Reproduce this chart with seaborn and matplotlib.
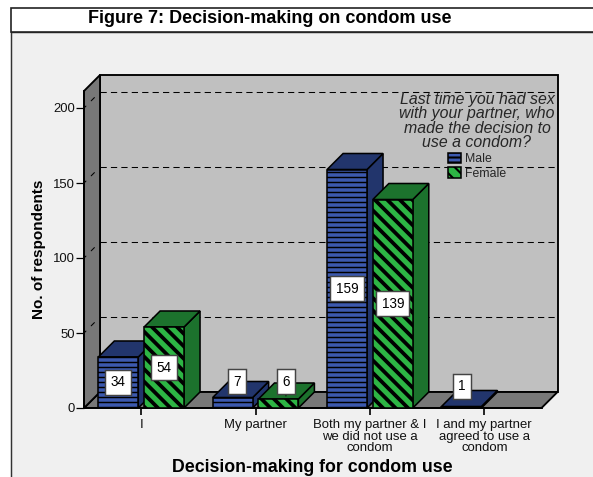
"""Figure 7: decision-making on condom use, SPSS style 3D clustered bars."""
import matplotlib
import matplotlib.pyplot as plt
import pandas as pd
import seaborn as sns
from matplotlib.patches import Patch, Polygon, Rectangle

matplotlib.use("Agg")

categories = ["I", "My partner", "Both my partner & I\nwe did not use a\ncondom",
              "I and my partner\nagreed to use a\ncondom"]
male_values = [34, 7, 159, 1]
female_categories = categories[:3]
female_values = [54, 6, 139]
y_ticks = [0, 50, 100, 150, 200]
grid_values = [50, 100, 150, 200]
legend_title = "Last time you had sex\nwith your partner, who\nmade the decision to\nuse a condom?"

W, H, DPI = 593, 477, 150
LEFT, RIGHT, FLOOR, TOP = 84, 541.5, 408, 91
PX_X = 4 / (RIGHT - LEFT)  # data units per pixel
PX_Y = 1 / 1.5
DEPTH = 16

FRONT = {"Male": "#3c59ae", "Female": "#2db544"}
SIDE = {"Male": "#22356c", "Female": "#1c722d"}
HATCH = {"Male": "-----", "Female": "\\\\\\\\"}
HATCH_LW = {"Male": 0.7, "Female": 1.8}

sns.set_theme(style="ticks")
plt.rcParams["font.family"] = ["Liberation Sans", "DejaVu Sans"]
plt.rcParams["hatch.linewidth"] = 1.0

df = pd.DataFrame({
    "category": categories + female_categories,
    "sex": ["Male"] * len(male_values) + ["Female"] * len(female_values),
    "count": male_values + female_values,
})

fig = plt.figure(figsize=(W / DPI, H / DPI), dpi=DPI, facecolor="white")
ax = fig.add_axes([LEFT / W, 1 - FLOOR / H, (RIGHT - LEFT) / W, (FLOOR - TOP) / H])
ax.set_facecolor("none")


def fig_rect(x0, y0, x1, y1, **kw):
    fig.add_artist(Rectangle((x0 / W, 1 - y1 / H), (x1 - x0) / W, (y1 - y0) / H,
                             transform=fig.transFigure, zorder=-1, **kw))


# outer frame: title band and grey panel
fig_rect(11, 32, W + 5, H + 5, facecolor="#f0f0f0", edgecolor="#333333", lw=0.7)
fig_rect(11, 8, W + 5, 32, facecolor="white", edgecolor="#222222", lw=0.8)

sns.barplot(data=df, x="category", y="count", hue="sex", order=categories,
            hue_order=["Male", "Female"], palette=FRONT, saturation=1, width=0.8,
            gap=0.127, edgecolor="black", linewidth=0.75, legend=False, ax=ax, zorder=5)

ax.set_xlim(-0.5, 3.5)
ax.set_ylim(0, (FLOOR - TOP) * PX_Y)
dx, dy = DEPTH * PX_X, DEPTH * PX_Y
x0, x1 = ax.get_xlim()
y1 = ax.get_ylim()[1]

# room: back wall, floor, left wall
edge = dict(edgecolor="black", lw=0.9, clip_on=False)
ax.add_patch(Polygon([(x0 + dx, dy), (x1 + dx, dy), (x1 + dx, y1 + dy), (x0 + dx, y1 + dy)],
                     facecolor="#c0c0c0", zorder=1, **edge))
ax.add_patch(Polygon([(x0, 0), (x0 + dx, dy), (x1 + dx, dy), (x1, 0)],
                     facecolor="#787878", zorder=1.5, **edge))
ax.add_patch(Polygon([(x0, 0), (x0 + dx, dy), (x0 + dx, y1 + dy), (x0, y1)],
                     facecolor="#787878", zorder=1.5, **edge))

for v in grid_values:
    ax.plot([x0 + dx, x1 + dx], [v + dy, v + dy], color="black", lw=0.5,
            ls=(0, (6, 4)), zorder=2, clip_on=False)
    ax.plot([x0 + dx * 0.45, x0 + dx * 0.65], [v + dy * 0.45, v + dy * 0.65], color="black",
            lw=0.5, zorder=2, clip_on=False)
    ax.plot([x0, x0 + dx * 0.12], [v, v + dy * 0.12], color="black", lw=0.5, zorder=2, clip_on=False)

# 3D sides, value labels
label_shift = {"7": (4.2, 16), "6": (7.5, 17.3), "1": (0.3, 20)}
leader_end = {"7": (8, 3), "6": (7.5, 3), "1": (6, 7)}
for z, (sex, container) in enumerate(zip(["Male", "Female"], ax.containers)):
    for bar in container:
        bar.set_hatch(HATCH[sex])
        bar.set_hatch_linewidth(HATCH_LW[sex])
        bar.set_zorder(3.5 + z)
        bar.set_clip_on(False)
        left, w, h = bar.get_x(), bar.get_width(), bar.get_height()
        top_face = [(left, h), (left + dx, h + dy), (left + w + dx, h + dy), (left + w, h)]
        side_face = [(left + w, 0), (left + w + dx, dy), (left + w + dx, h + dy), (left + w, h)]
        for pts in (side_face, top_face):
            ax.add_patch(Polygon(pts, facecolor=SIDE[sex], edgecolor="black", lw=0.75,
                                 zorder=3 + z, clip_on=False))
        cx = left + w / 2
        box = dict(boxstyle="square,pad=0.4", facecolor="white", edgecolor="#444444", lw=0.7)
        key = str(int(h))
        if key in label_shift:
            sx, sy = label_shift[key]
            lx, ly = leader_end[key]
            ax.annotate(key, xy=(cx + lx * PX_X, h + ly * PX_Y),
                        xytext=(cx + sx * PX_X, h + sy * PX_Y), fontsize=6.5,
                        ha="center", va="center", color="black", bbox=box, zorder=10,
                        arrowprops=dict(arrowstyle="-", lw=0.5, color="black", shrinkA=0, shrinkB=0))
        else:
            ax.text(cx, h / 2, key, fontsize=6.5, ha="center", va="center",
                    color="black", bbox=box, zorder=10)

sns.despine(ax=ax, top=True, right=True)
for side in ("left", "bottom"):
    ax.spines[side].set_linewidth(0.9)
    ax.spines[side].set_color("black")
    ax.spines[side].set_zorder(2.5)
ax.set_yticks(y_ticks)
ax.tick_params(axis="y", length=3.8, width=0.6, pad=0.6, labelsize=6.3, color="black",
               labelcolor="#111111")
ax.tick_params(axis="x", length=3.4, width=0.8, pad=2.1, labelsize=6.3, color="black",
               labelcolor="#111111")
for lab in ax.get_xticklabels():
    lab.set_linespacing(0.9)

ax.set_xlabel("Decision-making for condom use", fontsize=8.5, fontweight="bold", color="black", va="center")
ax.xaxis.set_label_coords(0.5, (FLOOR - 468) / (FLOOR - TOP))
ax.set_ylabel("No. of respondents", fontsize=7.3, fontweight="bold", color="black", va="center")
ax.yaxis.set_label_coords((39 - LEFT) / (RIGHT - LEFT), 0.5)
fig.text(270 / W, 1 - 18.5 / H, "Figure 7: Decision-making on condom use", fontsize=8.65,
         fontweight="bold", color="black", ha="center", va="center")

handles = [Patch(facecolor=FRONT[s], edgecolor="black", hatch=HATCH[s], lw=0.75, label=s)
           for s in ("Male", "Female")]
leg = ax.legend(handles=handles, title=legend_title, loc="upper center", frameon=False,
                bbox_to_anchor=(477 / W, 1 - 91.5 / H), bbox_transform=fig.transFigure,
                alignment="center", fontsize=5.9, handlelength=1.06, handleheight=0.9,
                handletextpad=0.3, labelspacing=0.2, borderpad=0, borderaxespad=0)
leg.set_zorder(9)
leg.get_title().set_fontsize(7.6)
leg.get_title().set_fontstyle("italic")
leg.get_title().set_multialignment("center")
leg.get_title().set_linespacing(0.96)

fig.savefig("out.png", dpi=DPI)
